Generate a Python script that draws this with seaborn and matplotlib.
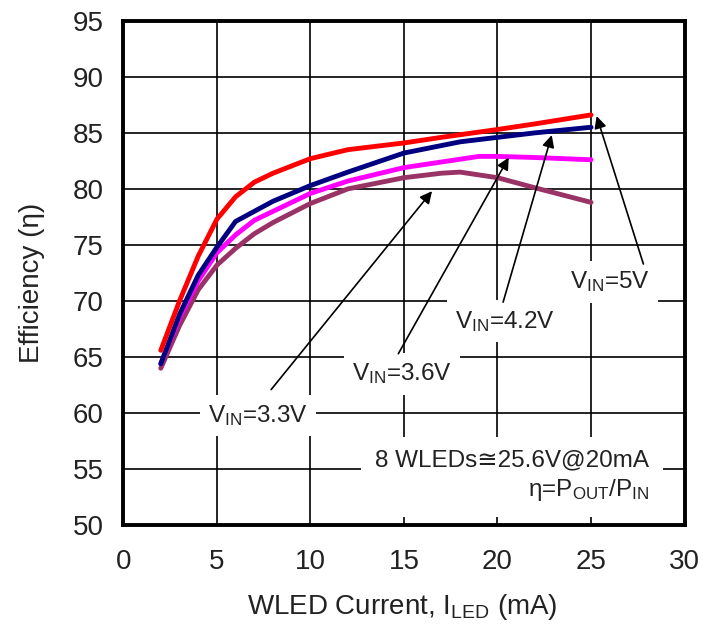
import matplotlib
matplotlib.use("Agg")
import matplotlib.pyplot as plt
import seaborn as sns
import pandas as pd

# ---- data ----
x_5v = [2, 3, 4, 5, 6, 7, 8, 10, 12, 15, 17, 20, 22, 25]
y_5v = [65.6, 70.0, 74.0, 77.3, 79.3, 80.6, 81.4, 82.7, 83.5, 84.1, 84.6, 85.3, 85.8, 86.6]
x_42v = [2, 3, 4, 5, 6, 8, 10, 12, 15, 18, 20, 22, 25]
y_42v = [64.4, 68.8, 72.3, 74.8, 77.1, 78.9, 80.3, 81.5, 83.2, 84.2, 84.6, 85.0, 85.5]
x_36v = [2, 3, 4, 5, 6, 7, 8, 10, 12, 15, 17, 19, 20, 22, 25]
y_36v = [64.4, 68.5, 71.8, 74.3, 75.9, 77.2, 78.0, 79.6, 80.7, 81.9, 82.4, 82.9, 82.9, 82.8, 82.6]
x_33v = [2, 3, 4, 5, 6, 7, 8, 10, 12, 15, 17, 18, 20, 22, 25]
y_33v = [64.0, 67.8, 71.0, 73.2, 74.7, 76.0, 77.0, 78.7, 80.0, 81.0, 81.4, 81.5, 81.0, 80.1, 78.8]

series_names = ["3.3V", "3.6V", "4.2V", "5V"]
series_colors = ["#993366", "#FF00FF", "#000080", "#FF0000"]

x_ticks = [0, 5, 10, 15, 20, 25, 30]
y_ticks = [50, 55, 60, 65, 70, 75, 80, 85, 90, 95]

frames = []
for name, xs, ys in zip(series_names, [x_33v, x_36v, x_42v, x_5v], [y_33v, y_36v, y_42v, y_5v]):
    frames.append(pd.DataFrame({"I": xs, "eff": ys, "vin": name}))
df = pd.concat(frames, ignore_index=True)

sns.set_style("white")
plt.rcParams["font.family"] = ["Liberation Sans", "DejaVu Sans"]
plt.rcParams["mathtext.fontset"] = "custom"
plt.rcParams["mathtext.rm"] = "Liberation Sans"
plt.rcParams["mathtext.it"] = "Liberation Sans"

fig = plt.figure(figsize=(7.05, 6.29), dpi=100)
ax = fig.add_axes([0.175, 0.165, 0.796, 0.802])

sns.lineplot(data=df, x="I", y="eff", hue="vin", hue_order=series_names,
             palette=dict(zip(series_names, series_colors)), lw=3.5,
             legend=False, ax=ax, zorder=5, sort=False)

ax.set_xlim(0, 30)
ax.set_ylim(50, 95)
ax.set_xticks(x_ticks)
ax.set_yticks(y_ticks)
ax.tick_params(axis="both", labelsize=20, length=0, colors="#222222")
ax.tick_params(axis="y", pad=14)
ax.tick_params(axis="x", pad=17)
ax.grid(True, color="black", lw=1.2, zorder=0)
ax.set_axisbelow(True)
for s in ax.spines.values():
    s.set_linewidth(2.8)
    s.set_color("black")
    s.set_zorder(10)

ax.set_xlabel(r"WLED Current, I$_{\mathregular{LED}}$ (mA)", fontsize=20, color="#222222")
ax.set_ylabel("Efficiency (η)", fontsize=20, color="#222222")
ax.xaxis.set_label_coords(0.497, -0.133)
ax.yaxis.set_label_coords(-0.14, 0.48)

box = dict(facecolor="white", edgecolor="none", pad=6)
lab_kw = dict(fontsize=17.5, ha="center", va="center", color="#222222", zorder=6, bbox=box)
ax.text(26.0, 71.7, r"V$_{\mathregular{IN}}$=5V", **lab_kw)
ax.text(20.4, 68.2, r"V$_{\mathregular{IN}}$=4.2V", **lab_kw)
ax.text(14.9, 63.5, r"V$_{\mathregular{IN}}$=3.6V", **lab_kw)
ax.text(7.2, 59.8, r"V$_{\mathregular{IN}}$=3.3V", **lab_kw)

ax.text(28.1, 54.4, "8 WLEDs\u224525.6V@20mA\n" + r"η=P$_{\mathregular{OUT}}$/P$_{\mathregular{IN}}$",
        fontsize=17.5, ha="right", va="center", ma="right", color="#222222", zorder=6,
        linespacing=1.3, bbox=dict(facecolor="white", edgecolor="none", pad=10))

arrows = [((27.8, 73.3), (25.3, 86.5)),
          ((20.3, 69.9), (22.9, 84.8)),
          ((14.7, 65.3), (20.6, 82.8)),
          ((7.9, 62.1), (16.5, 79.8))]
for tail, tip in arrows:
    ax.annotate("", xy=tip, xytext=tail, zorder=7,
                arrowprops=dict(arrowstyle="-|>", color="black", lw=1.2,
                                mutation_scale=18, shrinkA=0, shrinkB=0))

fig.savefig("out.png", dpi=100)
